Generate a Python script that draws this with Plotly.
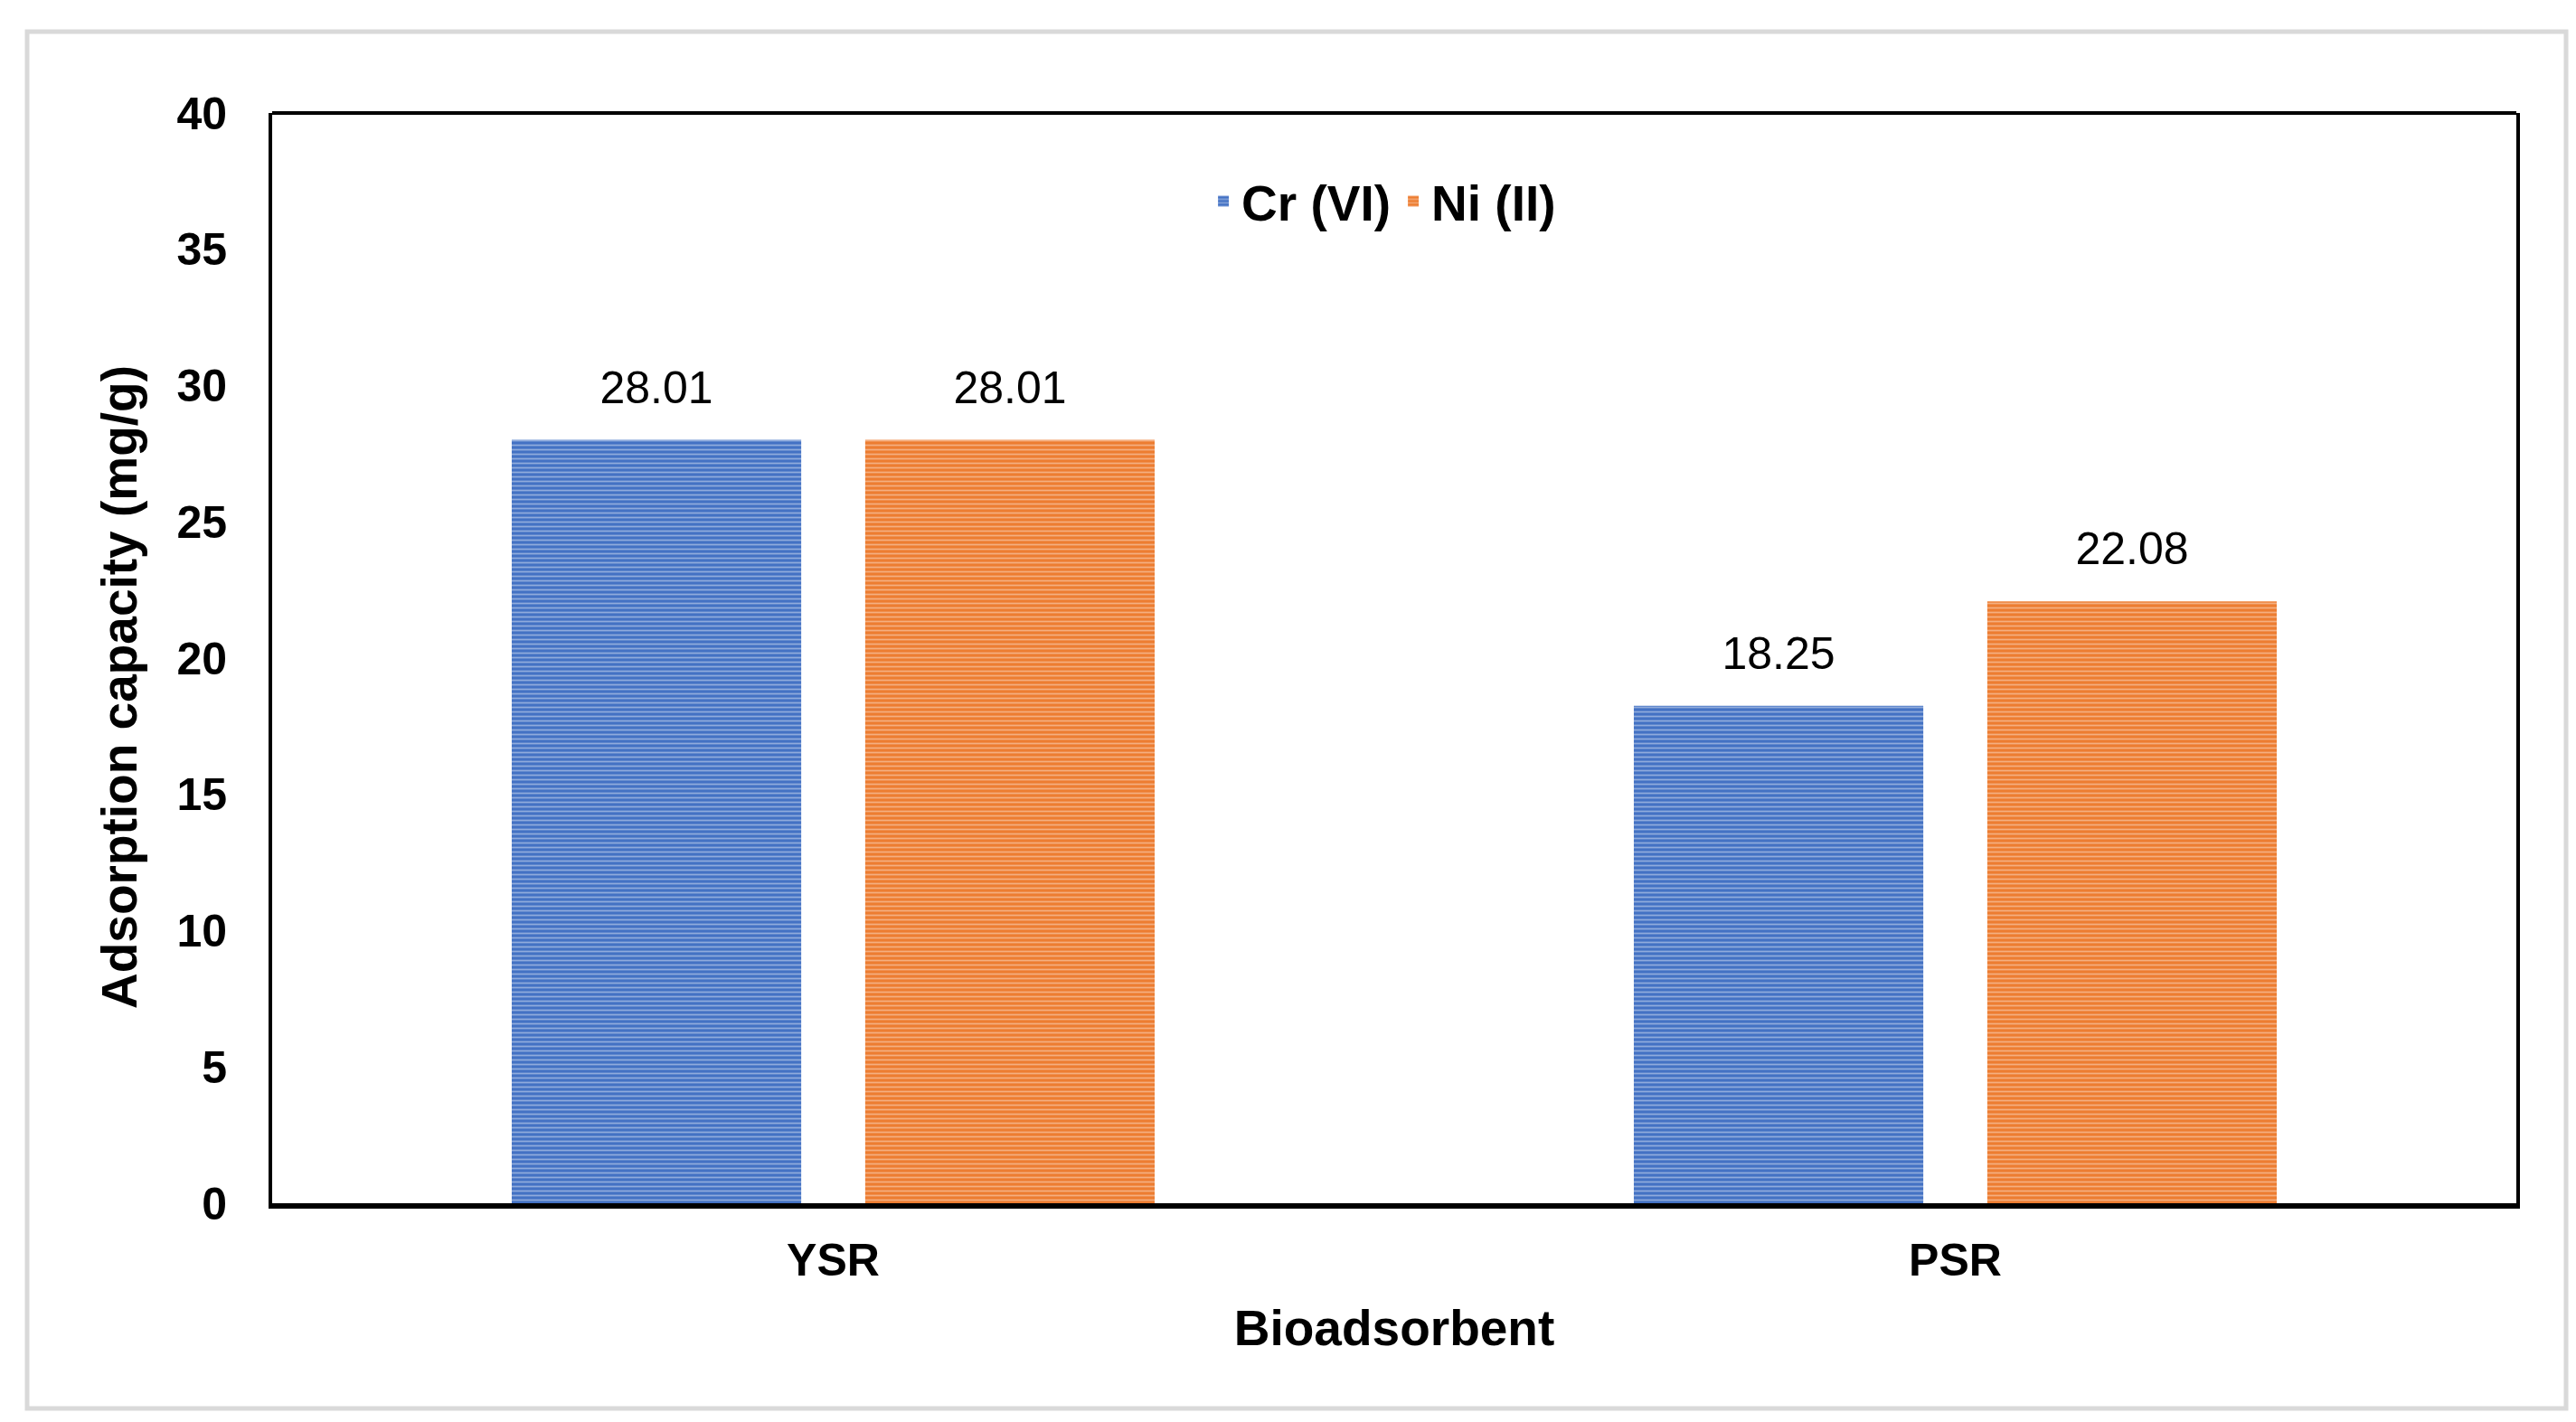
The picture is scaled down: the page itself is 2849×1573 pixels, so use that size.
import plotly.graph_objects as go

categories = ["YSR", "PSR"]
cr_vi = [28.01, 18.25]
ni_ii = [28.01, 22.08]
series_names = ["Cr (VI)", "Ni (II)"]
y_ticks = [0, 5, 10, 15, 20, 25, 30, 35, 40]

W, H = 2849, 1573
ML, MR, MT, MB = 293, 74, 117, 250
PW, PH = W - ML - MR, H - MT - MB

FONT = "Liberation Sans, Arial, sans-serif"
GAP = 0.37

fig = go.Figure()
specs = [
    (cr_vi, series_names[0], "#4472C4", "#dbe4f4", "g1"),
    (ni_ii, series_names[1], "#ED7D31", "#fbe2d0", "g2"),
]
for vals, name, col, light, grp in specs:
    fig.add_trace(go.Bar(
        x=categories, y=vals, name=name, offsetgroup=grp,
        marker=dict(color=col, line=dict(width=0),
                    pattern=dict(shape="-", fgcolor=light, bgcolor=col,
                                 size=5, solidity=0.35)),
    ))
for vals, name, col, light, grp in specs:
    fig.add_trace(go.Scatter(
        x=categories, y=vals, name=name, offsetgroup=grp, showlegend=False,
        mode="markers+text", marker=dict(size=44, opacity=0, color=col),
        text=[f"{v:.2f}" for v in vals], textposition="top center",
        textfont=dict(family=FONT, size=50, color="black"), cliponaxis=False,
        hoverinfo="skip",
    ))

def px_to_paper_x(px):
    return (px - ML) / PW

def px_to_paper_y(py):
    return 1 - (py - MT) / PH

shapes = [
    dict(type="rect", xref="paper", yref="paper",
         x0=px_to_paper_x(22), x1=px_to_paper_x(2830),
         y0=px_to_paper_y(1550), y1=px_to_paper_y(27),
         line=dict(color="#d9d9d9", width=5), fillcolor="rgba(0,0,0,0)", layer="below"),
    dict(type="line", xref="paper", yref="paper", x0=0, x1=1, y0=1, y1=1,
         line=dict(color="black", width=4)),
]

annotations = [
    dict(text="Adsorption capacity (mg/g)", textangle=-90, showarrow=False,
         xref="paper", yref="paper", x=px_to_paper_x(124), y=px_to_paper_y(752),
         xanchor="center", yanchor="middle",
         font=dict(family=FONT, size=55, color="black", weight="bold")),
]

fig.update_layout(
    width=W, height=H,
    margin=dict(l=ML, r=MR, t=MT, b=MB),
    paper_bgcolor="white", plot_bgcolor="white",
    barmode="group", bargap=GAP, bargroupgap=0.181,
    scattermode="group", scattergap=GAP,
    font=dict(family=FONT, color="black"),
    showlegend=True,
    legend=dict(orientation="h", x=0.495, xanchor="center", y=0.919, yanchor="middle",
                font=dict(family=FONT, size=55, color="black", weight="bold"),
                bgcolor="rgba(0,0,0,0)"),
    shapes=shapes,
    annotations=annotations,
    xaxis=dict(
        showline=True, linecolor="black", linewidth=6, mirror=False,
        showgrid=False, ticks="", ticklabelstandoff=14,
        tickfont=dict(family=FONT, size=50, color="black", weight="bold"),
        title=dict(text="Bioadsorbent", standoff=30,
                   font=dict(family=FONT, size=55, color="black", weight="bold")),
        automargin=False,
    ),
    yaxis=dict(
        range=[0, 40], tickvals=y_ticks, ticktext=[str(t) for t in y_ticks],
        showline=True, linecolor="black", linewidth=4, mirror=True,
        showgrid=False, zeroline=False, ticks="", ticklabelstandoff=36,
        tickfont=dict(family=FONT, size=50, color="black", weight="bold"),
        automargin=False,
    ),
)

fig.write_html("out.html")
